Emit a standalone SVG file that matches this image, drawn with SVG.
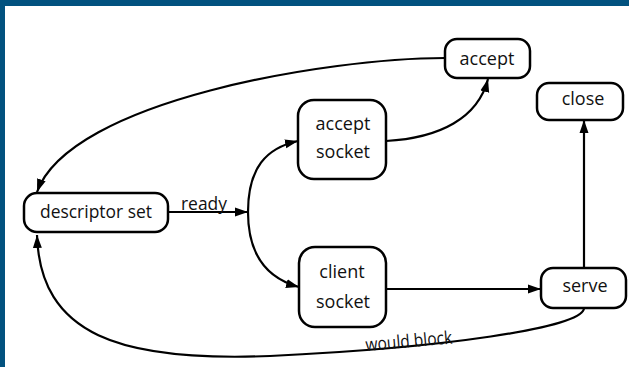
<svg xmlns="http://www.w3.org/2000/svg" width="629" height="367" viewBox="0 0 629 367">
<style>
.node rect{fill:#fff;stroke:#000;stroke-width:2.5}
.node text,.lbl{font-family:"Open Sans","Noto Sans",sans-serif;font-size:18px;fill:#111;text-anchor:middle}
.lbl{text-anchor:start}
.edge{fill:none;stroke:#000;stroke-width:2.2}
</style>
<defs>
<marker id="arr" markerUnits="userSpaceOnUse" markerWidth="14" markerHeight="10" refX="13" refY="5" orient="auto">
<path d="M0,0.5 L13,5 L0,9.5 z" fill="#000"/>
</marker>
</defs>
<rect x="0" y="0" width="629" height="367" fill="#fff"/>
<rect x="0" y="0" width="629" height="6" fill="#02527f"/>
<rect x="0" y="0" width="5" height="367" fill="#02527f"/>

<g id="connectors">
<path class="edge" d="M168,212 L248,212" marker-end="url(#arr)"/>
<path class="edge" d="M248,212 C248,168 266,148 298,141" marker-end="url(#arr)"/>
<path class="edge" d="M248,212 C248,254 266,278 299,287" marker-end="url(#arr)"/>
<path class="edge" d="M386,141 C440,138 478,118 488,79" marker-end="url(#arr)"/>
<path class="edge" d="M445,58 C330,58 70,100 37,192" marker-end="url(#arr)"/>
<path class="edge" d="M386,289 L541,289" marker-end="url(#arr)"/>
<path class="edge" d="M584,268 L584,120" marker-end="url(#arr)"/>
<path class="edge" d="M584,308 C584,328 440,348 270,356 C120,362 40,335 37,235" marker-end="url(#arr)"/>
<text class="lbl" x="181" y="210" textLength="46" lengthAdjust="spacingAndGlyphs">ready</text>
<text class="lbl" x="366" y="351" textLength="87" lengthAdjust="spacingAndGlyphs" transform="rotate(-5 366 351)">would block</text>
</g>

<g id="descriptor-set" class="node">
<rect x="24" y="193" width="144" height="39" rx="13"/>
<text x="96" y="218" textLength="112" lengthAdjust="spacingAndGlyphs">descriptor set</text>
</g>
<g id="accept-socket" class="node">
<rect x="298" y="100" width="88" height="79" rx="16"/>
<text x="343" y="130">accept</text>
<text x="343" y="158">socket</text>
</g>
<g id="client-socket" class="node">
<rect x="299" y="247" width="87" height="80" rx="16"/>
<text x="342" y="278">client</text>
<text x="343" y="308">socket</text>
</g>
<g id="accept" class="node">
<rect x="445" y="39" width="85" height="39" rx="12"/>
<text x="487" y="65">accept</text>
</g>
<g id="close" class="node">
<rect x="537" y="83" width="86" height="37" rx="12"/>
<text x="583" y="105">close</text>
</g>
<g id="serve" class="node">
<rect x="541" y="268" width="85" height="40" rx="12"/>
<text x="585" y="292">serve</text>
</g>
</svg>
